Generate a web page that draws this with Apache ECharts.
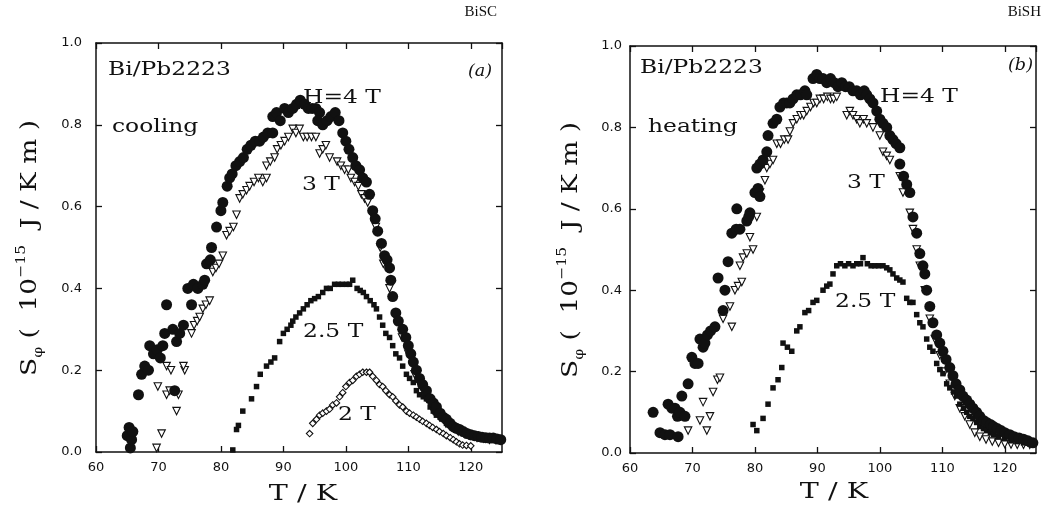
<!DOCTYPE html>
<html>
<head>
<meta charset="utf-8">
<script src="https://cdn.jsdelivr.net/npm/echarts@6/dist/echarts.min.js"></script>
<style>html,body{margin:0;padding:0;background:#fff;}#c{width:1045px;height:508px;}</style>
</head>
<body>
<div id="c"></div>
<script>
// ---------- DATA (T in K, S_phi in 1e-15 J/K m) ----------
const xTicks = [60, 70, 80, 90, 100, 110, 120];
const yTicks = [0.0, 0.2, 0.4, 0.6, 0.8, 1.0];

// (a) cooling
const coolH4 = [[65.0,0.04],[65.3,0.06],[65.5,0.01],[65.7,0.03],[65.9,0.05],[66.8,0.14],[67.3,0.19],[67.8,0.21],[68.4,0.20],[68.6,0.26],[69.2,0.24],[69.8,0.25],[70.3,0.23],[70.7,0.26],[71.3,0.36],[71.0,0.29],[72.3,0.30],[72.6,0.15],[72.9,0.27],[73.4,0.29],[74.0,0.31],[74.7,0.40],[75.3,0.36],[75.6,0.41],[76.3,0.40],[77.1,0.41],[77.4,0.42],[77.7,0.46],[78.3,0.47],[78.5,0.50],[79.3,0.55],[80.0,0.59],[80.3,0.61],[81.0,0.65],[81.4,0.67],[81.8,0.68],[82.4,0.70],[83.0,0.71],[83.6,0.72],[84.2,0.74],[84.8,0.75],[85.5,0.76],[86.2,0.76],[86.8,0.77],[87.5,0.78],[88.3,0.78],[88.3,0.82],[88.9,0.83],[89.5,0.81],[90.2,0.84],[90.8,0.83],[91.5,0.84],[92.1,0.85],[92.7,0.86],[93.4,0.85],[94.0,0.84],[94.6,0.84],[95.2,0.84],[95.8,0.83],[95.5,0.81],[96.3,0.80],[97.0,0.81],[97.6,0.82],[98.3,0.83],[98.9,0.81],[99.5,0.78],[100.0,0.76],[100.5,0.74],[101.1,0.72],[101.6,0.70],[102.2,0.69],[102.7,0.67],[103.3,0.66],[103.8,0.63],[104.3,0.59],[104.7,0.57],[105.1,0.54],[105.7,0.51],[106.2,0.48],[106.6,0.47],[107.0,0.45],[107.2,0.42],[107.5,0.38],[108.0,0.34],[108.4,0.32],[109.1,0.30],[109.6,0.28],[110.0,0.26],[110.4,0.24],[110.8,0.22],[111.3,0.20],[111.8,0.18],[112.3,0.165],[112.9,0.15],[113.5,0.13],[114.0,0.12],[114.5,0.11],[115.1,0.095],[115.6,0.085],[116.1,0.08],[116.7,0.07],[117.2,0.062],[117.7,0.058],[118.2,0.055],[118.8,0.05],[119.4,0.045],[120.0,0.042],[120.6,0.04],[121.2,0.038],[121.8,0.036],[122.4,0.035],[123.0,0.034],[123.6,0.034],[124.2,0.032],[124.8,0.03]];
const coolH3 = [[69.7,0.01],[70.5,0.045],[72.9,0.10],[69.9,0.16],[71.3,0.14],[71.8,0.15],[73.2,0.14],[71.3,0.21],[72.0,0.20],[74.2,0.20],[74.0,0.21],[75.3,0.29],[75.7,0.31],[76.2,0.32],[76.6,0.33],[77.1,0.35],[77.6,0.36],[78.2,0.37],[78.7,0.44],[79.2,0.45],[79.7,0.46],[80.3,0.48],[80.9,0.53],[81.4,0.54],[82.0,0.55],[82.5,0.58],[83.0,0.62],[83.5,0.63],[84.1,0.64],[84.6,0.65],[85.3,0.66],[86.0,0.67],[86.7,0.66],[87.3,0.67],[87.3,0.70],[87.9,0.71],[88.6,0.72],[89.0,0.74],[89.6,0.75],[90.2,0.76],[90.8,0.77],[91.5,0.79],[92.0,0.78],[92.6,0.79],[93.2,0.77],[93.8,0.77],[94.5,0.77],[95.2,0.77],[95.8,0.73],[96.3,0.74],[96.8,0.75],[97.4,0.72],[98.6,0.71],[99.2,0.70],[99.8,0.69],[100.4,0.69],[100.8,0.67],[101.4,0.66],[102.0,0.65],[102.5,0.63],[103.0,0.62],[103.5,0.61],[104.2,0.58],[104.8,0.55],[105.5,0.50],[106.0,0.46],[107.0,0.40],[108.0,0.33],[109.0,0.28],[110.0,0.24],[111.0,0.19],[112.0,0.16],[113.0,0.13],[114.0,0.10],[115.0,0.085],[116.0,0.07],[117.0,0.06],[118.0,0.05],[119.0,0.045],[120.0,0.04],[121.0,0.035],[122.0,0.033],[123.0,0.03],[124.0,0.03]];
const coolH25 = [[81.9,0.005],[82.5,0.055],[82.8,0.065],[83.5,0.10],[84.9,0.13],[85.7,0.16],[86.3,0.19],[87.3,0.21],[88.0,0.22],[88.6,0.23],[89.4,0.27],[90.0,0.29],[90.6,0.30],[91.2,0.31],[91.5,0.32],[92.0,0.33],[92.6,0.34],[93.2,0.35],[93.8,0.36],[94.4,0.37],[95.0,0.375],[95.6,0.38],[96.3,0.39],[96.9,0.40],[97.5,0.40],[98.2,0.41],[98.8,0.41],[99.4,0.41],[100.1,0.41],[100.6,0.41],[101.1,0.42],[101.8,0.40],[102.3,0.395],[102.8,0.39],[103.3,0.38],[103.9,0.37],[104.5,0.36],[104.9,0.35],[105.4,0.33],[105.9,0.31],[106.4,0.29],[107.0,0.28],[107.5,0.26],[108.0,0.24],[108.6,0.23],[109.1,0.21],[109.7,0.19],[110.2,0.18],[110.8,0.17],[111.3,0.15],[111.8,0.14],[112.4,0.135],[112.9,0.13],[113.5,0.11],[114.0,0.10],[114.5,0.09],[115.1,0.085],[115.6,0.08],[116.1,0.07],[116.7,0.065],[117.2,0.06],[117.7,0.055],[118.2,0.05],[118.8,0.045],[119.4,0.042],[120.0,0.04],[121.0,0.037],[122.0,0.035],[123.0,0.033],[124.0,0.03]];
const coolH2 = [[94.2,0.045],[94.7,0.07],[95.3,0.08],[95.8,0.09],[96.3,0.095],[96.9,0.10],[97.4,0.105],[97.9,0.115],[98.5,0.12],[99.0,0.135],[99.5,0.145],[100.0,0.16],[100.6,0.17],[101.1,0.175],[101.7,0.185],[102.2,0.19],[102.7,0.195],[103.3,0.195],[103.8,0.195],[104.3,0.185],[104.9,0.175],[105.4,0.165],[105.9,0.16],[106.4,0.15],[107.0,0.14],[107.5,0.135],[108.0,0.125],[108.6,0.115],[109.1,0.11],[109.7,0.10],[110.2,0.095],[110.8,0.09],[111.3,0.085],[111.8,0.08],[112.3,0.075],[112.9,0.07],[113.4,0.065],[113.9,0.06],[114.5,0.055],[115.0,0.05],[115.6,0.045],[116.1,0.04],[116.7,0.035],[117.2,0.03],[117.7,0.025],[118.2,0.02],[118.7,0.017],[119.3,0.016],[120.0,0.015]];

// (b) heating
const heatH4 = [[63.7,0.10],[64.8,0.05],[65.6,0.045],[66.4,0.045],[67.7,0.04],[66.1,0.12],[66.7,0.11],[67.2,0.11],[67.6,0.09],[68.0,0.10],[68.8,0.09],[68.3,0.14],[69.3,0.17],[69.9,0.235],[70.4,0.22],[70.9,0.22],[71.2,0.28],[71.7,0.26],[72.0,0.27],[72.4,0.29],[72.9,0.30],[73.6,0.31],[74.1,0.43],[74.9,0.35],[75.2,0.40],[75.7,0.47],[76.3,0.54],[77.0,0.55],[77.6,0.55],[77.1,0.60],[78.7,0.57],[79.2,0.59],[79.0,0.58],[80.0,0.64],[80.5,0.65],[80.8,0.63],[80.3,0.70],[80.8,0.71],[81.3,0.72],[81.9,0.74],[82.1,0.78],[82.9,0.81],[83.5,0.82],[84.0,0.85],[84.6,0.86],[85.1,0.86],[85.6,0.86],[86.1,0.87],[86.7,0.88],[87.3,0.88],[88.0,0.89],[88.3,0.88],[89.3,0.92],[89.9,0.93],[90.4,0.92],[90.9,0.92],[91.5,0.91],[92.1,0.92],[92.7,0.91],[93.3,0.90],[93.9,0.91],[94.5,0.90],[95.1,0.90],[95.7,0.89],[96.3,0.89],[96.9,0.88],[97.5,0.89],[97.9,0.88],[98.4,0.87],[98.9,0.86],[99.5,0.84],[100.0,0.82],[100.5,0.81],[101.1,0.80],[101.6,0.78],[102.1,0.77],[102.6,0.76],[103.2,0.75],[103.2,0.71],[103.8,0.68],[104.3,0.66],[104.8,0.64],[105.3,0.58],[105.9,0.54],[106.4,0.49],[106.9,0.46],[107.2,0.44],[107.5,0.40],[108.0,0.36],[108.5,0.32],[109.1,0.29],[109.6,0.27],[110.1,0.25],[110.6,0.23],[111.2,0.21],[111.7,0.19],[112.2,0.17],[112.8,0.155],[113.3,0.14],[113.9,0.13],[114.4,0.12],[114.9,0.11],[115.5,0.10],[116.0,0.09],[116.6,0.08],[117.1,0.075],[117.7,0.07],[118.2,0.065],[118.8,0.06],[119.4,0.055],[120.0,0.05],[120.8,0.045],[121.5,0.04],[122.3,0.037],[123.0,0.034],[123.7,0.03],[124.5,0.025]];
const heatH3 = [[69.3,0.055],[71.2,0.08],[71.7,0.125],[72.3,0.055],[72.8,0.09],[73.3,0.15],[74.0,0.18],[74.4,0.185],[74.9,0.33],[76.0,0.36],[76.3,0.31],[76.8,0.40],[77.3,0.41],[77.9,0.42],[77.6,0.46],[78.1,0.48],[78.7,0.49],[79.2,0.53],[79.7,0.50],[80.3,0.58],[80.8,0.64],[81.6,0.67],[81.9,0.70],[82.4,0.71],[82.9,0.72],[83.5,0.76],[84.1,0.76],[84.7,0.77],[85.3,0.77],[85.6,0.79],[86.1,0.81],[86.7,0.82],[87.3,0.83],[87.8,0.83],[88.3,0.84],[88.9,0.85],[89.4,0.86],[89.9,0.86],[90.4,0.87],[91.0,0.87],[91.6,0.875],[92.1,0.87],[92.6,0.87],[93.1,0.875],[94.7,0.83],[95.2,0.84],[95.7,0.83],[96.3,0.82],[96.8,0.81],[97.4,0.82],[97.9,0.81],[98.9,0.80],[100.0,0.78],[100.5,0.74],[101.1,0.73],[101.6,0.72],[103.2,0.68],[103.7,0.64],[104.8,0.59],[105.3,0.55],[105.9,0.50],[106.4,0.46],[107.2,0.40],[108.0,0.33],[108.8,0.28],[109.6,0.24],[110.4,0.20],[111.2,0.17],[112.0,0.14],[112.8,0.11],[113.6,0.09],[114.4,0.07],[115.2,0.05],[116.0,0.04],[117.0,0.033],[118.0,0.028],[119.0,0.025],[120.0,0.022],[121.0,0.021],[122.0,0.02],[123.0,0.02],[124.0,0.02]];
const heatH25 = [[79.7,0.07],[80.3,0.055],[81.3,0.085],[82.1,0.12],[82.9,0.16],[83.7,0.18],[84.3,0.21],[84.5,0.27],[85.2,0.26],[85.9,0.25],[86.7,0.30],[87.2,0.31],[88.0,0.345],[88.6,0.35],[89.3,0.37],[89.9,0.375],[90.9,0.40],[91.5,0.41],[92.0,0.415],[92.5,0.44],[93.1,0.46],[93.7,0.465],[94.4,0.46],[95.0,0.465],[95.7,0.46],[96.3,0.465],[96.9,0.465],[97.3,0.48],[98.0,0.465],[98.6,0.46],[99.2,0.46],[99.8,0.46],[100.5,0.46],[101.1,0.455],[101.6,0.45],[102.1,0.44],[102.7,0.43],[103.2,0.425],[103.7,0.42],[104.3,0.38],[104.8,0.37],[105.3,0.37],[105.9,0.34],[106.4,0.32],[106.9,0.31],[107.5,0.28],[108.0,0.26],[108.5,0.25],[109.1,0.22],[109.6,0.205],[110.1,0.195],[110.7,0.17],[111.2,0.16],[111.8,0.15],[112.3,0.14],[112.8,0.12],[113.4,0.11],[113.9,0.10],[114.4,0.09],[114.9,0.085],[115.5,0.075],[116.0,0.065],[116.6,0.06],[117.1,0.055],[117.7,0.05],[118.2,0.045],[119.0,0.04],[120.0,0.035],[121.0,0.03],[122.0,0.028],[123.0,0.025],[124.0,0.022]];

// ---------- CHART ----------
const INK = '#111';
const SERIF = '"DejaVu Serif", serif';
const SANS = '"DejaVu Sans", sans-serif';

const chart = echarts.init(document.getElementById('c'), null, {renderer: 'canvas'});

function xAx(grid, pos, labels) {
  return {
    type: 'value', gridIndex: grid, position: pos, min: xTicks[0], max: 125, interval: 10,
    axisLine: {show: true, onZero: false, lineStyle: {color: INK, width: 1.5}},
    axisTick: {show: true, inside: true, length: 6, lineStyle: {color: INK, width: 1.3}},
    axisLabel: {show: labels, color: INK, fontFamily: SANS, fontSize: 13, margin: 9, showMaxLabel: false},
    splitLine: {show: false}
  };
}
function yAx(grid, pos, labels, margin) {
  return {
    type: 'value', gridIndex: grid, position: pos, min: yTicks[0], max: yTicks[yTicks.length - 1], interval: 0.2,
    axisLine: {show: true, onZero: false, lineStyle: {color: INK, width: 1.5}},
    axisTick: {show: true, inside: true, length: 6, lineStyle: {color: INK, width: 1.3}},
    axisLabel: {show: labels, color: INK, fontFamily: SANS, fontSize: 13, margin: margin,
      formatter: v => v.toFixed(1)},
    splitLine: {show: false}
  };
}

function circles(data, xi, yi) {
  return {type: 'scatter', data, xAxisIndex: xi, yAxisIndex: yi, symbol: 'circle', symbolSize: 11, z: 5,
    itemStyle: {color: INK, opacity: 1}, silent: true};
}
function triangles(data, xi, yi) {
  return {type: 'scatter', data, xAxisIndex: xi, yAxisIndex: yi, symbol: 'triangle', symbolSize: 7.5, symbolRotate: 180, z: 3,
    itemStyle: {color: '#fff', borderColor: INK, borderWidth: 1.1, opacity: 1}, silent: true};
}
function squares(data, xi, yi) {
  return {type: 'scatter', data, xAxisIndex: xi, yAxisIndex: yi, symbol: 'rect', symbolSize: 5.5, z: 4,
    itemStyle: {color: INK, opacity: 1}, silent: true};
}
function diamonds(data, xi, yi) {
  return {type: 'scatter', data, xAxisIndex: xi, yAxisIndex: yi, symbol: 'diamond', symbolSize: 6.5, z: 3,
    itemStyle: {color: '#fff', borderColor: INK, borderWidth: 1.1, opacity: 1}, silent: true};
}

function label(text, x, y, opt) {
  opt = opt || {};
  return {
    type: 'text', x, y, scaleX: opt.sx || 1.3, rotation: opt.rot || 0, silent: true, z: 100,
    style: {
      text, fill: INK, font: (opt.italic ? 'italic ' : '') + (opt.size || 18) + 'px ' + (opt.family || SERIF),
      align: opt.align || 'left', verticalAlign: 'middle', rich: opt.rich
    }
  };
}

const yRich = {
  m: {fontFamily: SERIF, fontSize: 22, lineHeight: 30, verticalAlign: 'middle', fill: INK},
  sub: {fontFamily: SERIF, fontSize: 13, lineHeight: 13, verticalAlign: 'bottom', fill: INK},
  sup: {fontFamily: SERIF, fontSize: 13, lineHeight: 13, verticalAlign: 'top', fill: INK}
};
const yName = '{m|S}{sub|\u03c6}{m| (  10}{sup|\u221215}{m|  J / K m )}';

chart.setOption({
  animation: false,
  backgroundColor: '#fff',
  grid: [
    {left: 96, top: 43, width: 406, height: 409},
    {left: 630, top: 46, width: 406, height: 407}
  ],
  xAxis: [xAx(0, 'bottom', true), xAx(0, 'top', false), xAx(1, 'bottom', true), xAx(1, 'top', false)],
  yAxis: [yAx(0, 'left', true, 14), yAx(0, 'right', false, 8), yAx(1, 'left', true, 8), yAx(1, 'right', false, 8)],
  series: [
    triangles(coolH3, 0, 0), squares(coolH25, 0, 0), diamonds(coolH2, 0, 0), circles(coolH4, 0, 0),
    triangles(heatH3, 2, 2), squares(heatH25, 2, 2), circles(heatH4, 2, 2)
  ],
  graphic: [
    label('BiSC', 497, 12, {align: 'right', size: 15, sx: 1.0, family: '"Liberation Serif", serif'}),
    label('BiSH', 1041, 12, {align: 'right', size: 15, sx: 1.0, family: '"Liberation Serif", serif'}),
    // panel (a)
    label('Bi/Pb2223', 108, 70),
    label('cooling', 112, 127),
    label('H=4 T', 303, 98),
    label('3 T', 302, 185),
    label('2.5 T', 303, 332),
    label('2 T', 338, 415),
    label('(a)', 468, 72, {italic: true, size: 16, sx: 1.1}),
    // panel (b)
    label('Bi/Pb2223', 640, 68),
    label('heating', 648, 127),
    label('H=4 T', 880, 97),
    label('3 T', 847, 183),
    label('2.5 T', 835, 302),
    label('(b)', 1008, 66, {italic: true, size: 16, sx: 1.1}),
    // axis names
    label('T / K', 303, 494, {align: 'center', size: 22, sx: 1.3}),
    label('T / K', 834, 492, {align: 'center', size: 22, sx: 1.3}),
    label(yName, 30, 248, {align: 'center', rot: Math.PI / 2, sx: 1.2, rich: yRich, size: 22}),
    label(yName, 571, 250, {align: 'center', rot: Math.PI / 2, sx: 1.2, rich: yRich, size: 22})
  ]
});
</script>
</body>
</html>
